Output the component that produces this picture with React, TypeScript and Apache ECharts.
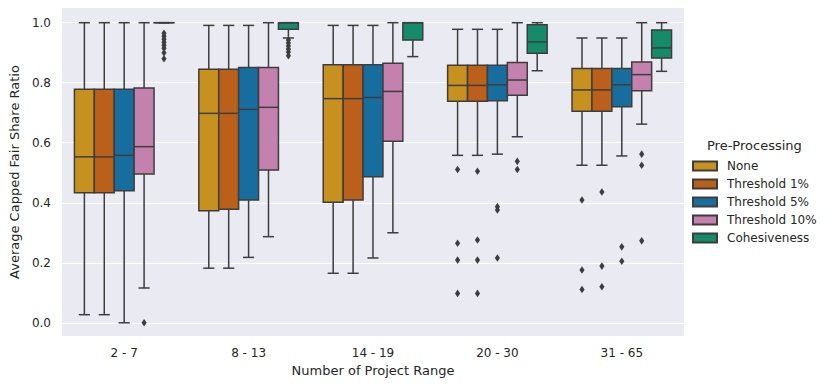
import React, { useEffect, useRef } from 'react';
import * as echarts from 'echarts';

const categories = ['2 - 7', '8 - 13', '14 - 19', '20 - 30', '31 - 65'];
const seriesNames = ['None', 'Threshold 1%', 'Threshold 5%', 'Threshold 10%', 'Cohesiveness'];
const seriesColors = ['#C7911F', '#BA601B', '#176E9E', '#C481AD', '#168B6A'];
const yTicks = [0, 0.2, 0.4, 0.6, 0.8, 1.0];

// [min whisker, Q1, median, Q3, max whisker] per category
const noneBoxes = [
  [0.027, 0.433, 0.553, 0.778, 1.0],
  [0.182, 0.373, 0.698, 0.845, 0.991],
  [0.165, 0.402, 0.747, 0.86, 0.991],
  [0.558, 0.738, 0.791, 0.858, 0.978],
  [0.525, 0.705, 0.776, 0.847, 0.949],
];
const t1Boxes = [
  [0.027, 0.433, 0.553, 0.778, 1.0],
  [0.182, 0.378, 0.698, 0.845, 0.991],
  [0.165, 0.409, 0.747, 0.86, 0.991],
  [0.558, 0.738, 0.791, 0.858, 0.978],
  [0.525, 0.705, 0.776, 0.847, 0.949],
];
const t5Boxes = [
  [0.0, 0.44, 0.558, 0.778, 1.0],
  [0.218, 0.409, 0.711, 0.851, 0.991],
  [0.216, 0.487, 0.751, 0.86, 0.991],
  [0.562, 0.74, 0.793, 0.858, 0.978],
  [0.556, 0.72, 0.793, 0.847, 0.949],
];
const t10Boxes = [
  [0.116, 0.496, 0.587, 0.782, 1.0],
  [0.287, 0.509, 0.718, 0.851, 1.0],
  [0.30, 0.605, 0.771, 0.865, 1.0],
  [0.62, 0.758, 0.809, 0.867, 1.0],
  [0.662, 0.773, 0.827, 0.869, 1.0],
];
const cohBoxes = [
  [1.0, 1.0, 1.0, 1.0, 1.0],
  [0.949, 0.978, 1.0, 1.0, 1.0],
  [0.887, 0.942, 1.0, 1.0, 1.0],
  [0.84, 0.898, 0.936, 0.993, 1.0],
  [0.838, 0.882, 0.916, 0.976, 1.0],
];
const allBoxes = [noneBoxes, t1Boxes, t5Boxes, t10Boxes, cohBoxes];

// outliers: [category index, value]
const noneOutliers = [[3, 0.511], [3, 0.265], [3, 0.209], [3, 0.098], [4, 0.409], [4, 0.176], [4, 0.111]];
const t1Outliers = [[3, 0.505], [3, 0.276], [3, 0.209], [3, 0.098], [4, 0.436], [4, 0.189], [4, 0.12]];
const t5Outliers = [[3, 0.387], [3, 0.376], [3, 0.216], [4, 0.253], [4, 0.205]];
const t10Outliers = [[0, 0.0], [3, 0.538], [3, 0.511], [4, 0.562], [4, 0.525], [4, 0.273]];
const cohOutliers = [
  [0, 0.965], [0, 0.955], [0, 0.945], [0, 0.935], [0, 0.925], [0, 0.915], [0, 0.9], [0, 0.88],
  [1, 0.942], [1, 0.932], [1, 0.922], [1, 0.912], [1, 0.902], [1, 0.89],
];
const allOutliers = [noneOutliers, t1Outliers, t5Outliers, t10Outliers, cohOutliers];

const EDGE = '#3D3D3D';
const TEXT = '#262626';
const FONT = 'DejaVu Sans';

export default function App() {
  const ref = useRef<HTMLDivElement>(null);
  useEffect(() => {
    if (!ref.current) return;
    const chart = echarts.init(ref.current, undefined, { renderer: 'svg' });
    const nS = seriesNames.length;

    const boxSeries = seriesNames.map((name, sIdx) => ({
      name,
      type: 'custom',
      itemStyle: { color: seriesColors[sIdx], borderColor: EDGE, borderWidth: 0.8 },
      encode: { x: 0, y: [1, 2, 3, 4, 5] },
      data: allBoxes[sIdx].map((b, c) => [c, ...b]),
      renderItem: (params: any, api: any) => {
        const cat = api.value(0);
        const band = api.size([1, 0])[0];
        const w = (band * 0.8) / nS;
        const base = api.coord([cat, 0])[0];
        const cx = base + (sIdx - (nS - 1) / 2) * w;
        const yMin = api.coord([cat, api.value(1)])[1];
        const yQ1 = api.coord([cat, api.value(2)])[1];
        const yMed = api.coord([cat, api.value(3)])[1];
        const yQ3 = api.coord([cat, api.value(4)])[1];
        const yMax = api.coord([cat, api.value(5)])[1];
        const cap = w * 0.28;
        const ls = { stroke: EDGE, lineWidth: 1.5 };
        const children: any[] = [
          { type: 'line', shape: { x1: cx, y1: yQ1, x2: cx, y2: yMin }, style: ls },
          { type: 'line', shape: { x1: cx, y1: yQ3, x2: cx, y2: yMax }, style: ls },
          { type: 'line', shape: { x1: cx - cap, y1: yMin, x2: cx + cap, y2: yMin }, style: ls },
          { type: 'line', shape: { x1: cx - cap, y1: yMax, x2: cx + cap, y2: yMax }, style: ls },
          {
            type: 'rect',
            shape: { x: cx - w / 2, y: yQ3, width: w, height: Math.max(yQ1 - yQ3, 0.01) },
            style: { fill: seriesColors[sIdx], stroke: EDGE, lineWidth: 1.5 },
          },
          { type: 'line', shape: { x1: cx - w / 2, y1: yMed, x2: cx + w / 2, y2: yMed }, style: ls },
        ];
        return { type: 'group', children };
      },
    }));

    const outlierData: number[][] = [];
    allOutliers.forEach((arr, sIdx) => arr.forEach(([c, v]) => outlierData.push([c, sIdx, v])));

    const outlierSeries = {
      name: 'outliers',
      type: 'custom',
      encode: { x: 0, y: 2 },
      data: outlierData,
      renderItem: (params: any, api: any) => {
        const cat = api.value(0);
        const s = api.value(1);
        const v = api.value(2);
        const band = api.size([1, 0])[0];
        const w = (band * 0.8) / nS;
        const p = api.coord([cat, v]);
        const cx = p[0] + (s - (nS - 1) / 2) * w;
        const cy = p[1];
        return {
          type: 'polygon',
          shape: { points: [[cx, cy - 3.8], [cx + 2.6, cy], [cx, cy + 3.8], [cx - 2.6, cy]] },
          style: { fill: EDGE },
        };
      },
    };

    chart.setOption({
      animation: false,
      textStyle: { fontFamily: FONT },
      title: {
        text: 'Pre-Processing',
        left: 702,
        top: 134,
        textStyle: { fontFamily: FONT, fontSize: 13, fontWeight: 'normal', color: TEXT },
      },
      legend: {
        data: seriesNames,
        orient: 'vertical',
        left: 687,
        top: 155,
        icon: 'rect',
        itemWidth: 24,
        itemHeight: 9,
        itemGap: 6,
        textStyle: { fontFamily: FONT, fontSize: 12, color: TEXT, padding: [0, 0, 0, 5] },
      },
      grid: {
        left: 55,
        right: 146,
        top: 8,
        bottom: 50,
        show: true,
        backgroundColor: '#EAEAF2',
        borderWidth: 0,
      },
      xAxis: {
        type: 'category',
        data: categories,
        boundaryGap: true,
        name: 'Number of Project Range',
        nameLocation: 'middle',
        nameGap: 27,
        nameTextStyle: { fontFamily: FONT, fontSize: 13, color: TEXT },
        axisLine: { show: false },
        axisTick: { show: false },
        axisLabel: { fontFamily: FONT, fontSize: 12, color: TEXT, margin: 11 },
        splitLine: { show: false },
      },
      yAxis: {
        type: 'value',
        min: -0.044,
        max: 1.049,
        name: 'Average Capped Fair Share Ratio',
        nameLocation: 'middle',
        nameGap: 35,
        nameTextStyle: { fontFamily: FONT, fontSize: 13, color: TEXT },
        axisLine: { show: false },
        axisTick: { show: false, customValues: yTicks },
        axisLabel: {
          customValues: yTicks,
          fontFamily: FONT,
          fontSize: 12,
          color: TEXT,
          margin: 11,
          formatter: (v: number) => v.toFixed(1),
        },
        splitLine: { show: true, lineStyle: { color: '#FFFFFF', width: 1.2 } },
      },
      series: [...boxSeries, outlierSeries],
    });
    return () => chart.dispose();
  }, []);
  return (
    <div
      ref={ref}
      style={{ position: 'fixed', left: 0, top: 0, width: 830, height: 386, background: '#fff' }}
    />
  );
}
